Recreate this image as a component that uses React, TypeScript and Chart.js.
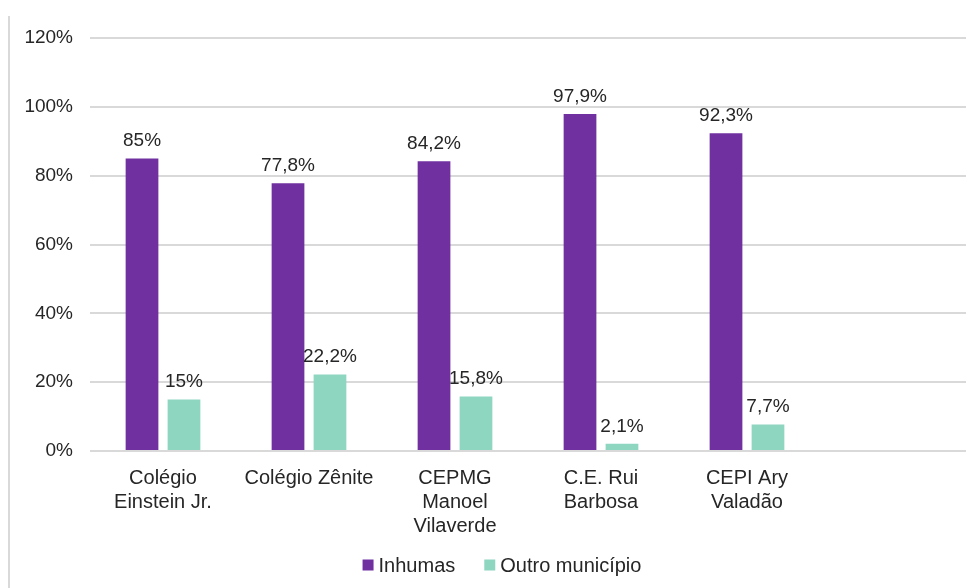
import React, { useEffect, useRef } from "react";
import { Chart, registerables } from "chart.js";

Chart.register(...registerables);

const categories: (string | string[])[] = [
  ["Colégio", "Einstein Jr."],
  "Colégio Zênite",
  ["CEPMG", "Manoel", "Vilaverde"],
  ["C.E. Rui", "Barbosa"],
  ["CEPI Ary", "Valadão"],
  "",
];
const inhumas: (number | null)[] = [85, 77.8, 84.2, 97.9, 92.3, null];
const outro: (number | null)[] = [15, 22.2, 15.8, 2.1, 7.7, null];
const yTicks = [0, 20, 40, 60, 80, 100, 120];

const FONT = "'Liberation Sans', Arial, sans-serif";
const TEXT = "#262626";

const fmt = (v: number) => String(v).replace(".", ",") + "%";

const dataLabels = {
  id: "dataLabels",
  afterDatasetsDraw(chart: any) {
    const ctx = chart.ctx;
    ctx.save();
    ctx.font = `19px ${FONT}`;
    ctx.fillStyle = TEXT;
    ctx.textAlign = "center";
    ctx.textBaseline = "bottom";
    chart.data.datasets.forEach((ds: any, i: number) => {
      const meta = chart.getDatasetMeta(i);
      meta.data.forEach((el: any, j: number) => {
        const v = ds.data[j];
        if (v == null) return;
        ctx.fillText(fmt(v), el.x, el.y - 8);
      });
    });
    ctx.restore();
  },
};

const frame = {
  id: "frame",
  beforeDraw(chart: any) {
    const ctx = chart.ctx;
    ctx.save();
    ctx.fillStyle = "#d9d9d9";
    ctx.fillRect(8, 16, 2, chart.height - 16);
    ctx.restore();
  },
};

const customLegend = {
  id: "customLegend",
  afterDraw(chart: any) {
    const ctx = chart.ctx;
    ctx.save();
    ctx.font = `20px ${FONT}`;
    ctx.textBaseline = "middle";
    ctx.textAlign = "left";
    const box = 11;
    const gapBoxText = 5;
    const gapItems = 29;
    const items = chart.data.datasets.map((ds: any) => ({
      label: ds.label,
      color: ds.backgroundColor,
      w: ctx.measureText(ds.label).width,
    }));
    const total =
      items.reduce((s: number, it: any) => s + box + gapBoxText + it.w, 0) +
      gapItems * (items.length - 1);
    const centerX = 502;
    const y = 565;
    let x = centerX - total / 2;
    items.forEach((it: any) => {
      ctx.fillStyle = it.color;
      ctx.fillRect(x, y - box / 2, box, box);
      x += box + gapBoxText;
      ctx.fillStyle = TEXT;
      ctx.fillText(it.label, x, y + 1);
      x += it.w + gapItems;
    });
    ctx.restore();
  },
};

export default function App() {
  const ref = useRef<HTMLCanvasElement>(null);
  useEffect(() => {
    if (!ref.current) return;
    const chart = new Chart(ref.current, {
      type: "bar",
      data: {
        labels: categories,
        datasets: [
          {
            label: "Inhumas",
            data: inhumas,
            backgroundColor: "#7030a0",
            categoryPercentage: 0.575,
            barPercentage: 0.78,
          },
          {
            label: "Outro município",
            data: outro,
            backgroundColor: "#8fd6c1",
            categoryPercentage: 0.575,
            barPercentage: 0.78,
          },
        ],
      },
      options: {
        animation: false,
        responsive: false,
        maintainAspectRatio: false,
        layout: { padding: { top: 38, right: 8, left: 0, bottom: 0 } },
        plugins: {
          legend: { display: false },
          tooltip: { enabled: false },
        },
        scales: {
          x: {
            grid: { display: false, drawTicks: false },
            border: { display: false },
            afterFit: (scale: any) => {
              scale.height = 137;
            },
            ticks: {
              font: { family: FONT, size: 20, lineHeight: 1.18 },
              color: TEXT,
              padding: 16,
              maxRotation: 0,
              autoSkip: false,
            },
          },
          y: {
            min: 0,
            max: 120,
            afterBuildTicks: (scale: any) => {
              scale.ticks = yTicks.map((v) => ({ value: v }));
            },
            afterFit: (scale: any) => {
              scale.width = 90;
            },
            grid: { color: "#d9d9d9", lineWidth: 2, drawTicks: false },
            border: { display: false },
            ticks: {
              font: { family: FONT, size: 19 },
              color: TEXT,
              padding: 17,
              callback: (v: any) => v + "%",
            },
          },
        },
      },
      plugins: [dataLabels, frame, customLegend],
    });
    return () => chart.destroy();
  }, []);
  return (
    <div style={{ position: "absolute", left: 0, top: 0, width: 974, height: 588, background: "#fff" }}>
      <canvas ref={ref} width={974} height={588} style={{ display: "block" }} />
    </div>
  );
}
